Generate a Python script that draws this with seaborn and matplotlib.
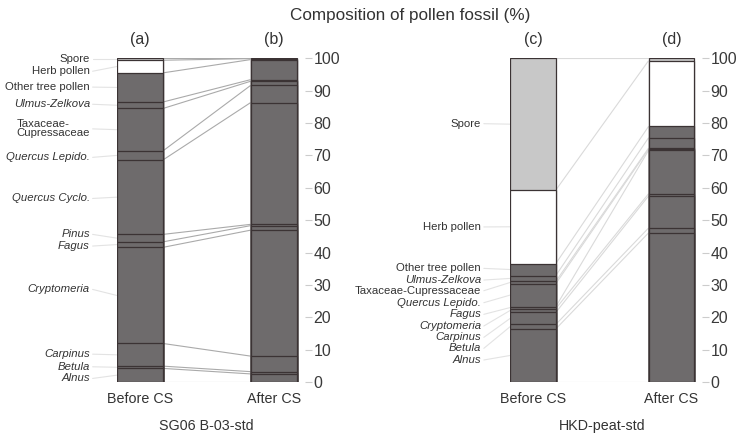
import numpy as np
import pandas as pd
import matplotlib
matplotlib.use("Agg")
import matplotlib.pyplot as plt
import matplotlib.transforms as mtransforms
import seaborn as sns

# ---------------- data ----------------
stages = ["Before CS", "After CS"]

left_categories = ["Alnus", "Betula", "Carpinus", "Cryptomeria", "Fagus", "Pinus",
                   "Quercus Cyclo.", "Quercus Lepido.", "Taxaceae-Cupressaceae",
                   "Ulmus-Zelkova", "Other tree pollen", "Herb pollen", "Spore"]
left_before = [4.2, 0.7, 7.0, 29.7, 1.7, 2.3, 23.0, 2.8, 13.1, 2.0, 9.0, 3.9, 0.6]
left_after = [2.5, 0.7, 4.8, 38.9, 1.4, 0.4, 37.6, 5.3, 1.3, 0.5, 6.2, 0.3, 0.1]
left_labels = ["Alnus", "Betula", "Carpinus", "Cryptomeria", "Fagus", "Pinus",
               "Quercus Cyclo.", "Quercus Lepido.", "Taxaceae-\nCupressaceae",
               "Ulmus-Zelkova", "Other tree pollen", "Herb pollen", "Spore"]

right_categories = ["Alnus", "Betula", "Carpinus", "Cryptomeria", "Fagus",
                    "Quercus Lepido.", "Taxaceae-Cupressaceae", "Ulmus-Zelkova",
                    "Other tree pollen", "Herb pollen", "Spore"]
right_before = [16.4, 1.4, 3.7, 1.2, 0.6, 7.1, 0.7, 1.8, 3.7, 22.7, 40.7]
right_after = [46.1, 1.5, 9.9, 0.7, 13.4, 0.4, 0.3, 3.2, 3.5, 20.3, 0.7]
right_labels = ["Alnus", "Betula", "Carpinus", "Cryptomeria", "Fagus",
                "Quercus Lepido.", "Taxaceae-Cupressaceae", "Ulmus-Zelkova",
                "Other tree pollen", "Herb pollen", "Spore"]

panel_letters = [["(a)", "(b)"], ["(c)", "(d)"]]
sites = ["SG06 B-03-std", "HKD-peat-std"]
y_ticks = [0, 10, 20, 30, 40, 50, 60, 70, 80, 90, 100]
title = "Composition of pollen fossil (%)"

# ---------------- layout / style ----------------
left_label_y = [1.1, 4.7, 8.6, 28.6, 42.0, 45.6, 56.7, 69.4, 78.2, 85.8, 91.1, 96.0, 99.7]
right_label_y = [6.8, 10.4, 13.8, 17.3, 20.9, 24.5, 28.2, 31.5, 35.1, 47.9, 79.8]
italic_names = {"Alnus", "Betula", "Carpinus", "Cryptomeria", "Fagus", "Pinus",
                "Quercus Cyclo.", "Quercus Lepido.", "Ulmus-Zelkova"}

DARK = "#6e6b6c"
EDGE = "#3b3334"
SPORE = "#c8c8c8"
TEXT = "#333333"
REGULAR = ["Liberation Sans", "DejaVu Sans"]

sns.set_style("white")
plt.rcParams["font.family"] = REGULAR

W, H = 738, 434
fig = plt.figure(figsize=(W / 100, H / 100), dpi=100)


def fill_color(cat):
    if cat == "Spore":
        return SPORE
    if cat == "Herb pollen":
        return "white"
    return DARK


def draw_panel(rect, xlim, bar_w, cats, before, after, labels, label_y,
               label_dx, letters, site, link_color):
    ax = fig.add_axes(rect)
    df = pd.DataFrame({
        "stage": np.repeat(stages, len(cats)),
        "category": cats * 2,
        "value": list(before) + list(after),
    })
    df["top"] = df.groupby("stage")["value"].cumsum()
    for cat in reversed(cats):
        sub = df[df["category"] == cat]
        sns.barplot(data=sub, x="stage", y="top", order=stages, color=fill_color(cat),
                    saturation=1, edgecolor=EDGE, linewidth=0.9, width=bar_w,
                    errorbar=None, ax=ax, zorder=2)
    # connecting lines between the two bars
    tb = [0.0] + list(df[df["stage"] == stages[0]]["top"])
    ta = [0.0] + list(df[df["stage"] == stages[1]]["top"])
    for yb, ya in zip(tb, ta):
        ax.plot([bar_w / 2, 1 - bar_w / 2], [yb, ya], color=link_color, lw=0.8,
                zorder=1, solid_capstyle="butt")
    # category labels with leader lines
    first = df[df["stage"] == stages[0]]
    mids = (first["top"] - first["value"] / 2).tolist()
    xl = -bar_w / 2 - label_dx
    for name, cat, ly, my in zip(labels, cats, label_y, mids):
        ax.text(xl, ly, name, ha="right", va="center", fontsize=8.2,
                style="italic" if cat in italic_names else "normal",
                color=TEXT, clip_on=False, linespacing=0.9, multialignment="left")
        ax.plot([xl + 0.02, -bar_w / 2], [ly, my], color="#e3e3e3", lw=0.8,
                clip_on=False, zorder=0)
    ax.set_xlim(*xlim)
    ax.set_ylim(0, 100)
    ax.set_xlabel("")
    ax.set_ylabel("")
    ax.yaxis.tick_right()
    ax.set_yticks(y_ticks)
    ax.tick_params(axis="y", length=4.7, width=0.8, color="#cccccc", pad=1.5,
                   labelsize=11.5, labelcolor="#3a3a3a")
    ax.tick_params(axis="x", length=0, pad=7, labelsize=10.3, labelcolor=TEXT)
    for s in ax.spines.values():
        s.set_visible(False)
    trans = mtransforms.blended_transform_factory(ax.transData, ax.transAxes)
    for i, letter in enumerate(letters):
        ax.text(i, 1.0587, letter, transform=trans, ha="center", va="center",
                fontsize=11.5, color=TEXT)
    ax.text(0.5, -0.148, site, transform=trans, ha="center", va="baseline",
            fontsize=10.3, color=TEXT)
    return ax


y0 = (H - 382) / H
hgt = (382 - 58.3) / H
draw_panel([116.7 / W, y0, (305 - 116.7) / W, hgt], (-0.173, 1.234), 0.346,
           left_categories, left_before, left_after, left_labels, left_label_y,
           0.2, panel_letters[0], sites[0], "#aaaaaa")
draw_panel([510 / W, y0, (701.7 - 510) / W, hgt], (-0.166, 1.218), 0.33,
           right_categories, right_before, right_after, right_labels, right_label_y,
           0.21, panel_letters[1], sites[1], "#dadada")

fig.text(410 / W, 1 - 20 / H, title, ha="center", va="baseline", fontsize=12.3,
         color=TEXT)

fig.savefig("out.png", dpi=100)
